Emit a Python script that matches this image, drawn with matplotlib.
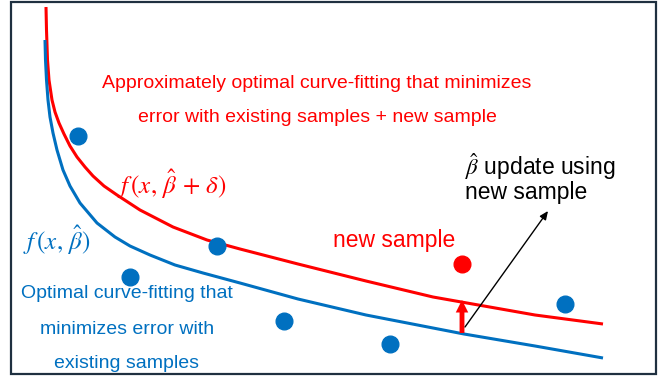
import matplotlib.pyplot as plt
from matplotlib.patches import Rectangle

plt.rcParams['font.family'] = ['Liberation Sans', 'DejaVu Sans']
plt.rcParams['mathtext.fontset'] = 'stix'

# curves and samples (pixel-like units, y grows downward)
red_x = [46, 46.5, 47.5, 49, 52, 55, 59, 64, 70, 77, 85, 93, 104, 117, 140, 173, 207,
         240, 298, 366, 433, 467, 535, 603]
red_y = [7, 30, 60, 80, 100, 112, 123, 134, 146, 157, 167, 176, 186, 195, 210, 227, 240,
         249, 264, 281, 297, 303, 315, 324]
blue_x = [45, 45.5, 46.5, 48, 50, 53, 57, 63, 70, 80, 97, 115, 130, 150, 175, 203,
          240, 298, 366, 433, 464, 535, 603]
blue_y = [40, 60, 80, 100, 117, 133, 150, 170, 186, 203, 223, 237, 246, 255, 265, 273,
          283, 299, 315, 328, 334, 346, 358]
old_x = [78, 130, 217, 284, 390, 565]
old_y = [136, 277, 246, 321, 344, 304]
new_x = [462]
new_y = [264]

RED = '#FF0000'
BLUE = '#0070C0'

fig = plt.figure(figsize=(6.7, 3.81), dpi=100)
ax = fig.add_axes([0, 0, 1, 1])
ax.set_xlim(0, 670)
ax.set_ylim(381, 0)
ax.axis('off')

ax.add_patch(Rectangle((11, 1.5), 645, 372.5, fill=False, edgecolor='#1F3040', linewidth=1.6))

ax.plot(red_x, red_y, color=RED, lw=2.2, solid_capstyle='butt', solid_joinstyle='round')
ax.plot(blue_x, blue_y, color=BLUE, lw=2.2, solid_capstyle='butt', solid_joinstyle='round')
ax.plot(old_x, old_y, 'o', color=BLUE, ms=12, zorder=5)
ax.plot(new_x, new_y, 'o', color=RED, ms=12, zorder=5)

# red shift arrow between the two fits
ax.annotate('', xy=(462, 300), xytext=(462, 333),
            arrowprops=dict(arrowstyle='simple,head_length=0.9,head_width=0.9,tail_width=0.35',
                            color=RED, lw=0, shrinkA=0, shrinkB=0))
# black pointer
ax.annotate('', xy=(548, 211), xytext=(465, 327),
            arrowprops=dict(arrowstyle='-|>,head_length=0.5,head_width=0.22',
                            color='black', lw=1.0, shrinkA=0, shrinkB=0))

ax.text(317, 83, 'Approximately optimal curve-fitting that minimizes',
        color=RED, fontsize=14, ha='center', va='center')
ax.text(317, 118, 'error with existing samples + new sample',
        color=RED, fontsize=14, ha='center', va='center')
ax.text(117, 184, r'$f\,(x,\,\hat{\beta}\,+\,\delta)$', color=RED, fontsize=18,
        ha='left', va='center')
ax.text(23, 240, r'$f\,(x,\,\hat{\beta})$', color=BLUE, fontsize=18, ha='left', va='center')

ax.text(127, 294, 'Optimal curve-fitting that', color=BLUE, fontsize=14, ha='center', va='center')
ax.text(127, 329, 'minimizes error with', color=BLUE, fontsize=14, ha='center', va='center')
ax.text(127, 363, 'existing samples', color=BLUE, fontsize=14, ha='center', va='center')

ax.text(394, 241, 'new sample', color=RED, fontsize=16.5, ha='center', va='center')
ax.text(465, 167, r'$\hat{\beta}$ update using', color='black', fontsize=16.5,
        ha='left', va='center')
ax.text(465, 193, 'new sample', color='black', fontsize=16.5, ha='left', va='center')

fig.savefig('out.png', dpi=100)
